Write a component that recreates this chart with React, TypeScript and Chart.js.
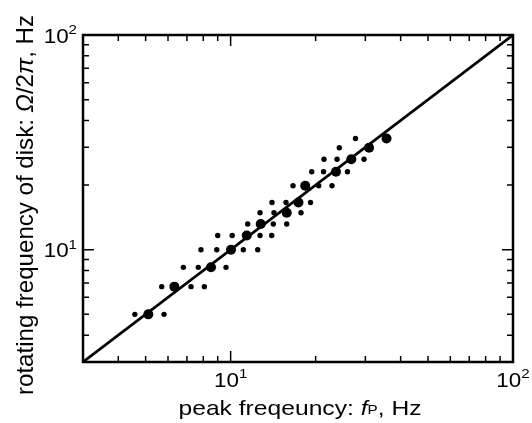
import React, { useEffect, useRef } from 'react';
import { Chart, registerables } from 'chart.js';

Chart.register(...registerables);

// Large markers (on the line)
const bigX = [5.11, 6.32, 8.52, 10.03, 11.4, 12.78, 15.8, 17.39, 18.37, 23.61, 26.75, 30.91, 35.65];
const bigY = [5.0, 6.73, 8.28, 10.0, 11.65, 13.18, 14.87, 16.59, 19.87, 23.09, 26.37, 29.86, 32.95];

// Small markers (scatter)
const smallX = [
  4.58, 5.81,
  5.7, 7.24, 8.07,
  6.8, 7.68, 9.63,
  7.85, 8.93, 11.09, 12.47,
  9.0, 10.13, 12.71, 13.98,
  11.49, 14.16, 15.8,
  12.71, 14.24, 17.75,
  14.01, 15.71, 19.18,
  16.63, 20.51, 22.86,
  19.37, 21.33, 25.93,
  21.41, 23.81, 29.67,
  24.26,
  27.68,
];
const smallY = [
  5.0, 5.0,
  6.73, 6.73, 6.73,
  8.28, 8.28, 8.28,
  10.0, 10.0, 10.0, 10.0,
  11.65, 11.65, 11.65, 11.65,
  13.18, 13.18, 13.18,
  14.87, 14.87, 14.87,
  16.59, 16.59, 16.59,
  19.87, 19.87, 19.87,
  23.09, 23.09, 23.09,
  26.37, 26.37, 26.37,
  29.86,
  32.95,
];

// Reference line y = x
const lineX = [3, 100];
const lineY = [3, 100];

const axisMin = 3;
const axisMax = 100;
const minorTicks = [4, 5, 6, 7, 8, 9, 20, 30, 40, 50, 60, 70, 80, 90];
const majorTicks = [10];
const labelTicks = [10, 100];
const labelExps = ['1', '2'];

const FAMILY = '"Liberation Sans", Arial, Helvetica, sans-serif';

type Part = { t: string; font: string; dy?: number };

function measure(ctx: CanvasRenderingContext2D, parts: Part[]) {
  let total = 0;
  const widths = parts.map((p) => {
    ctx.font = p.font;
    const w = ctx.measureText(p.t).width;
    total += w;
    return w;
  });
  return { total, widths };
}

function drawRich(
  ctx: CanvasRenderingContext2D,
  parts: Part[],
  x: number,
  y: number,
  align: 'center' | 'right' | 'left',
  sx: number,
  rotate = 0
) {
  ctx.save();
  ctx.translate(x, y);
  if (rotate) ctx.rotate(rotate);
  ctx.scale(sx, 1);
  const { total, widths } = measure(ctx, parts);
  let cx = align === 'center' ? -total / 2 : align === 'right' ? -total : 0;
  ctx.fillStyle = '#000';
  ctx.textBaseline = 'alphabetic';
  ctx.textAlign = 'left';
  parts.forEach((p, i) => {
    ctx.font = p.font;
    ctx.fillText(p.t, cx, p.dy || 0);
    cx += widths[i];
  });
  ctx.restore();
}

const framePlugin = {
  id: 'frame',
  afterDraw(chart: any) {
    const ctx: CanvasRenderingContext2D = chart.ctx;
    const { left, right, top, bottom } = chart.chartArea;
    const xs = chart.scales.x;
    const ys = chart.scales.y;
    ctx.save();
    ctx.strokeStyle = '#000';
    // ticks
    ctx.lineWidth = 1.5;
    const drawTick = (v: number, len: number) => {
      const px = xs.getPixelForValue(v);
      const py = ys.getPixelForValue(v);
      ctx.beginPath();
      ctx.moveTo(px, bottom);
      ctx.lineTo(px, bottom - len);
      ctx.moveTo(px, top);
      ctx.lineTo(px, top + len);
      ctx.moveTo(left, py);
      ctx.lineTo(left + len, py);
      ctx.moveTo(right, py);
      ctx.lineTo(right - len, py);
      ctx.stroke();
    };
    minorTicks.forEach((v) => drawTick(v, 6));
    majorTicks.forEach((v) => drawTick(v, 11));
    // border
    ctx.lineWidth = 2.5;
    ctx.strokeRect(left, top, right - left, bottom - top);
    ctx.restore();

    const tickFont = `20px ${FAMILY}`;
    const supFont = `13.5px ${FAMILY}`;
    labelTicks.forEach((v, i) => {
      const parts: Part[] = [
        { t: '10', font: tickFont },
        { t: labelExps[i], font: supFont, dy: -8.5 },
      ];
      drawRich(ctx, parts, xs.getPixelForValue(v), bottom + 24.5, 'center', 1.12);
      drawRich(ctx, parts, left - 6, ys.getPixelForValue(v) + 7.5, 'right', 1.12);
    });

    // x title
    const xParts: Part[] = [
      { t: 'peak freqeuncy: ', font: `21px ${FAMILY}` },
      { t: 'f', font: `italic 21px ${FAMILY}` },
      { t: 'P', font: `13px ${FAMILY}`, dy: -1 },
      { t: ', Hz', font: `21px ${FAMILY}` },
    ];
    const xw = measure(ctx, xParts).total;
    drawRich(ctx, xParts, (left + right) / 2 + 2, bottom + 52.5, 'center', 243 / xw);

    // y title
    const yParts: Part[] = [
      { t: 'rotating frequency of disk: ', font: `24px ${FAMILY}` },
      { t: 'Ω', font: `italic 24px ${FAMILY}` },
      { t: '/2', font: `24px ${FAMILY}` },
      { t: 'π', font: `italic 24px ${FAMILY}` },
      { t: ', Hz', font: `24px ${FAMILY}` },
    ];
    const yw = measure(ctx, yParts).total;
    drawRich(ctx, yParts, 33, (top + bottom) / 2 + 6.5, 'center', 380 / yw, -Math.PI / 2);
  },
};

export default function App() {
  const ref = useRef<HTMLCanvasElement>(null);
  useEffect(() => {
    if (!ref.current) return;
    const chart = new Chart(ref.current, {
      type: 'scatter',
      data: {
        datasets: [
          {
            label: 'big',
            data: bigX.map((x, i) => ({ x, y: bigY[i] })),
            backgroundColor: '#000',
            borderWidth: 0,
            pointRadius: 5,
            order: 1,
          },
          {
            label: 'small',
            data: smallX.map((x, i) => ({ x, y: smallY[i] })),
            backgroundColor: '#000',
            borderWidth: 0,
            pointRadius: 2.7,
            order: 1,
          },
          {
            label: 'y=x',
            type: 'line',
            data: lineX.map((x, i) => ({ x, y: lineY[i] })),
            borderColor: '#000',
            borderWidth: 2.7,
            pointRadius: 0,
            showLine: true,
            fill: false,
            order: 2,
          } as any,
        ],
      },
      options: {
        responsive: false,
        animation: false,
        layout: { padding: { left: 83, top: 35, right: 19, bottom: 61 } },
        plugins: { legend: { display: false }, tooltip: { enabled: false } },
        scales: {
          x: { type: 'logarithmic', min: axisMin, max: axisMax, display: false },
          y: { type: 'logarithmic', min: axisMin, max: axisMax, display: false },
        },
      },
      plugins: [framePlugin],
    });
    return () => chart.destroy();
  }, []);
  return (
    <div style={{ position: 'fixed', left: 0, top: 0, width: 532, height: 423, background: '#fff' }}>
      <canvas ref={ref} width={532} height={423} style={{ display: 'block' }} />
    </div>
  );
}
